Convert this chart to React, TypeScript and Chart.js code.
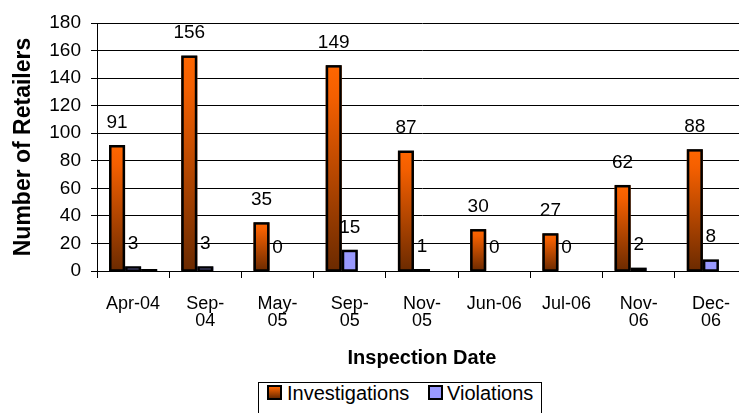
import React, { useEffect, useRef } from 'react';
import { Chart, registerables } from 'chart.js';

Chart.register(...registerables);

const categories: (string | string[])[] = [
  'Apr-04',
  ['Sep-', '04'],
  ['May-', '05'],
  ['Sep-', '05'],
  ['Nov-', '05'],
  'Jun-06',
  'Jul-06',
  ['Nov-', '06'],
  ['Dec-', '06'],
];
const investigations = [91, 156, 35, 149, 87, 30, 27, 62, 88];
const violations = [3, 3, 0, 15, 1, 0, 0, 2, 8];
const unlabeledSeries = [1, null, null, null, null, null, null, null, null];
const yMin = 0;
const yMax = 180;
const yStep = 20;

const FONT = '"Liberation Sans", Arial, Helvetica, sans-serif';
const ORANGE_TOP = '#FF6600';
const ORANGE_BOTTOM = '#6B2A00';
const LAVENDER = '#9999FF';

const outlinesAndLabels = {
  id: 'outlinesAndLabels',
  afterDatasetsDraw(chart: any) {
    const ctx = chart.ctx;
    ctx.save();
    const lw = 2.5;
    ctx.strokeStyle = '#000';
    ctx.lineWidth = lw;
    chart.data.datasets.forEach((ds: any, di: number) => {
      const meta = chart.getDatasetMeta(di);
      meta.data.forEach((el: any, i: number) => {
        const v = ds.data[i];
        if (v == null || v === 0) return;
        const { x, y, base, width } = el.getProps(['x', 'y', 'base', 'width'], true);
        const left = x - width / 2;
        ctx.strokeRect(left + lw / 2, y + lw / 4, width - lw, Math.max(base - y - lw / 4, 0.01));
      });
    });
    ctx.font = `19px ${FONT}`;
    ctx.fillStyle = '#000';
    ctx.textAlign = 'center';
    ctx.textBaseline = 'middle';
    [0, 1].forEach((di) => {
      const meta = chart.getDatasetMeta(di);
      meta.data.forEach((el: any, i: number) => {
        const v = chart.data.datasets[di].data[i];
        if (v == null) return;
        ctx.fillText(String(v), el.x, el.y - 23);
      });
    });
    ctx.restore();
  },
};

function orangeGradient(c: any) {
  const chart = c.chart;
  const y = chart.scales && chart.scales.y;
  if (!y || c.type !== 'data') return ORANGE_TOP;
  const v = c.parsed ? c.parsed.y : c.raw;
  const top = y.getPixelForValue(v);
  const bottom = y.getPixelForValue(0);
  if (!isFinite(top) || !isFinite(bottom) || Math.abs(bottom - top) < 1) return ORANGE_TOP;
  const g = chart.ctx.createLinearGradient(0, top, 0, bottom);
  g.addColorStop(0, ORANGE_TOP);
  g.addColorStop(0.15, '#F45F00');
  g.addColorStop(1, ORANGE_BOTTOM);
  return g;
}

export default function App() {
  const ref = useRef<HTMLCanvasElement>(null);

  useEffect(() => {
    if (!ref.current) return;
    const chart = new Chart(ref.current, {
      type: 'bar',
      data: {
        labels: categories as any,
        datasets: [
          {
            label: 'Investigations',
            data: investigations,
            backgroundColor: orangeGradient as any,
            borderWidth: 0,
          },
          {
            label: 'Violations',
            data: violations,
            backgroundColor: LAVENDER,
            borderWidth: 0,
          },
          {
            label: '',
            data: unlabeledSeries as any,
            backgroundColor: '#000',
            borderWidth: 0,
          },
        ],
      },
      options: {
        responsive: false,
        animation: false,
        devicePixelRatio: 1,
        layout: { padding: { top: 23, right: 13, bottom: 32, left: 0 } },
        datasets: { bar: { categoryPercentage: 0.667, barPercentage: 1.0 } },
        plugins: {
          legend: { display: false },
          tooltip: { enabled: false },
        },
        scales: {
          x: {
            ticks: {
              font: { family: FONT, size: 18, lineHeight: 0.95 },
              color: '#000',
              padding: 17,
              maxRotation: 0,
              autoSkip: false,
            },
            grid: {
              drawOnChartArea: false,
              drawTicks: true,
              tickLength: 7,
              color: '#000',
              offset: true,
            },
            border: { color: '#000', width: 1 },
            title: {
              display: true,
              text: 'Inspection Date',
              color: '#000',
              font: { family: FONT, size: 20, weight: 'bold' },
              padding: { top: 0, bottom: 11 },
            },
            afterFit: (s: any) => {
              s.height = 110;
            },
          },
          y: {
            min: yMin,
            max: yMax,
            ticks: {
              stepSize: yStep,
              font: { family: FONT, size: 19 },
              color: '#000',
              padding: 10,
            },
            grid: { color: '#000', tickLength: 6, lineWidth: 1 },
            border: { color: '#000', width: 1 },
            title: {
              display: true,
              text: 'Number of Retailers',
              color: '#000',
              font: { family: FONT, size: 23, weight: 'bold' },
              padding: { top: 10, bottom: 0 },
            },
            afterFit: (s: any) => {
              s.width = 97;
            },
          },
        },
      } as any,
      plugins: [outlinesAndLabels],
    });
    return () => chart.destroy();
  }, []);

  const square = (bg: string): React.CSSProperties => ({
    position: 'absolute',
    width: 15,
    height: 15,
    boxSizing: 'border-box',
    border: '2px solid #000',
    background: bg,
    top: 1,
  });
  const text: React.CSSProperties = {
    position: 'absolute',
    top: 0,
    fontFamily: FONT,
    fontSize: 20,
    lineHeight: '19px',
    color: '#000',
    whiteSpace: 'nowrap',
  };

  return (
    <div
      style={{
        position: 'absolute',
        left: 0,
        top: 0,
        width: 739,
        height: 413,
        overflow: 'hidden',
        background: '#fff',
      }}
    >
      <canvas ref={ref} width={760} height={413} style={{ display: 'block' }} />
      <div
        style={{
          position: 'absolute',
          left: 258,
          top: 382,
          width: 284,
          height: 40,
          boxSizing: 'border-box',
          border: '1px solid #000',
          background: '#fff',
        }}
      >
        <div style={{ position: 'absolute', left: 8, top: 1, width: 270, height: 20 }}>
          <div style={{ ...square(`linear-gradient(${ORANGE_TOP}, ${ORANGE_BOTTOM})`), left: 0 }} />
          <div style={{ ...text, left: 20 }}>Investigations</div>
          <div style={{ ...square(LAVENDER), left: 161 }} />
          <div style={{ ...text, left: 180 }}>Violations</div>
        </div>
      </div>
    </div>
  );
}
